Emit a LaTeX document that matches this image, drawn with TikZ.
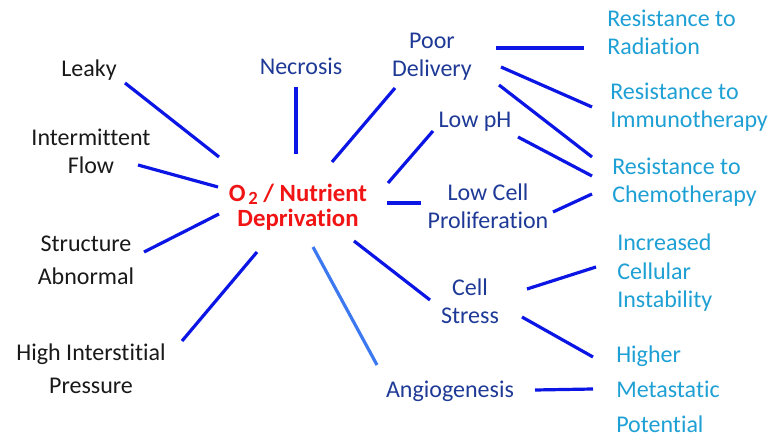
\documentclass[tikz,border=0pt]{standalone}
\usepackage{fontspec}
\setmainfont{Carlito}[Ligatures={CommonOff,ContextualOff}]
\definecolor{txtblack}{RGB}{25,25,25}
\definecolor{midblue}{RGB}{30,58,150}
\definecolor{resblue}{RGB}{30,160,212}
\definecolor{hubred}{RGB}{240,20,20}
\definecolor{linkblue}{RGB}{12,22,228}
\definecolor{lightlink}{RGB}{60,120,240}
\begin{document}
\begin{tikzpicture}[x=0.75pt,y=-0.75pt,
  lbl/.style={inner sep=0pt, anchor=base, align=center, font=\fontsize{18}{21.4}\selectfont},
  wide/.style={font=\fontsize{18}{24.75}\selectfont},
  blk/.style={lbl, text=txtblack},
  mid/.style={lbl, text=midblue},
  res/.style={lbl, anchor=base west, align=left, text=resblue},
  hubtext/.style={lbl, text=hubred, font=\bfseries\fontsize{18.6}{19.2}\selectfont},
  link/.style={draw=linkblue, line width=2.4pt},
  lightlinkstyle/.style={draw=lightlink, line width=2.4pt}]
\useasboundingbox (0,0) rectangle (774,441);
% hub
\node[hubtext] (hub) at (298,227) {O\kern2pt\raisebox{-2pt}[8pt][0pt]{\fontsize{14}{14}\selectfont 2}\ / Nutrient\\Deprivation};
% left causes
\node[blk] (leaky) at (89,77) {Leaky};
\node[blk] (flow) at (91,174) {Intermittent\\Flow};
\node[blk,wide] (struct) at (86,285) {Structure\\Abnormal};
\node[blk,wide] (press) at (91,393) {High Interstitial\\Pressure};
% middle
\node[mid] (necro) at (301,75) {Necrosis};
\node[mid] (poor) at (432,77) {Poor\\Delivery};
\node[mid] (lowph) at (475,128) {Low pH};
\node[mid] (lowcell) at (488,229) {Low Cell\\Proliferation};
\node[mid] (stress) at (470,324) {Cell\\Stress};
\node[mid] (angio) at (450,397) {Angiogenesis};
% right results
\node[res] (rad) at (607,55) {Resistance to\\Radiation};
\node[res] (imm) at (610,128) {Resistance to\\Immunotherapy};
\node[res] (chemo) at (612,203) {Resistance to\\Chemotherapy};
\node[res] (instab) at (617,308) {Increased\\Cellular\\Instability};
\node[res,font=\fontsize{18}{25.9}\selectfont] (metas) at (616,432) {Higher\\Metastatic\\Potential};
% connectors to hub
\draw[link] ([shift={(36,6)}]leaky.base) -- ([shift={(-79,-70)}]hub.base);
\draw[link] ([shift={(47,-9)}]flow.base) -- ([shift={(-80,-40)}]hub.base);
\draw[link] ([shift={(58,-33)}]struct.base) -- ([shift={(-79,-13)}]hub.base);
\draw[link] ([shift={(91,-52)}]press.base) -- ([shift={(-41,25)}]hub.base);
\draw[link] ([shift={(-5,12)}]necro.base) -- ([shift={(-2,-73)}]hub.base);
\draw[link] ([shift={(-37,11)}]poor.base) -- ([shift={(34,-65)}]hub.base);
\draw[link] ([shift={(-42,3)}]lowph.base) -- ([shift={(90,-44)}]hub.base);
\draw[link] ([shift={(-67,-26)}]lowcell.base) -- ([shift={(89,-24)}]hub.base);
\draw[lightlinkstyle] ([shift={(-73,-32)}]angio.base) -- ([shift={(15,20)}]hub.base);
\draw[link] ([shift={(-40,-24)}]stress.base) -- ([shift={(56,14)}]hub.base);
% connectors to results
\draw[link] ([shift={(64,-29)}]poor.base) -- ([shift={(-23,-7)}]rad.base west);
\draw[link] ([shift={(69,-10)}]poor.base) -- ([shift={(-18,-21)}]imm.base west);
\draw[link] ([shift={(67,8)}]poor.base) -- ([shift={(-20,-46)}]chemo.base west);
\draw[link] ([shift={(43,9)}]lowph.base) -- ([shift={(-20,-27)}]chemo.base west);
\draw[link] ([shift={(65,-17)}]lowcell.base) -- ([shift={(-20,-9)}]chemo.base west);
\draw[link] ([shift={(57,-35)}]stress.base) -- ([shift={(-21,-41)}]instab.base west);
\draw[link] ([shift={(52,-7)}]stress.base) -- ([shift={(-23,-75)}]metas.base west);
\draw[link] ([shift={(85,-7)}]angio.base) -- ([shift={(-23,-43)}]metas.base west);
\end{tikzpicture}
\end{document}
